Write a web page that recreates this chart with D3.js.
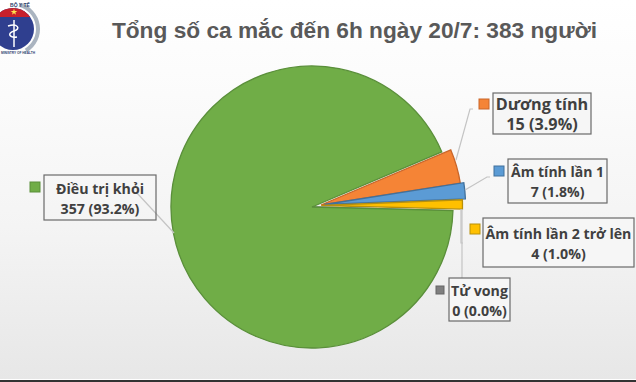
<!DOCTYPE html>
<html><head><meta charset="utf-8">
<script src="https://cdn.jsdelivr.net/npm/d3@7/dist/d3.min.js"></script>
<style>html,body{margin:0;padding:0;background:#fff}svg{display:block}</style>
</head><body><svg id="c" width="636" height="382"></svg>
<script>
const title = "Tổng số ca mắc đến 6h ngày 20/7: 383 người";
const categories = ["Dương tính","Âm tính lần 1","Âm tính lần 2 trở lên","Tử vong","Điều trị khỏi"];
const values = [15,7,4,0,357];
const percents = ["3.9%","1.8%","1.0%","0.0%","93.2%"];
const fills = ["#f58436","#5b9bd5","#ffc000","#7f7f7f","#70ad47"];
const strokes = ["#c9662a","#41719c","#b8900b","#666666","#5a8f3a"];
const explodeX = [9,12.5,9.5,0,0];
const explodeY = [-2,-2.5,-1.5,0,0];

const labelBoxes = [
 {x:493,y:93,w:98,h:41,sx:479,sy:99,ss:10,fs:16.2},
 {x:508,y:159,w:99,h:44,sx:494,sy:166,ss:10,fs:14},
 {x:483,y:218,w:151,h:49,sx:470,sy:224,ss:10,fs:14.2},
 {x:449,y:278,w:61,h:43,sx:436,sy:286,ss:8,fs:14.2},
 {x:44,y:175,w:112,h:45,sx:30,sy:182,ss:10,fs:14.2}
];
const leaders = [
 [[456,160],[470,109],[473,109]],
 [[465,190],[487,177],[490,177]],
 [[461,209],[461,243],[463,243]],
 [[462,209],[462,278]],
 [[137,193],[174,233]]
];

const svg = d3.select("#c");
const defs = svg.append("defs");
const g = defs.append("linearGradient").attr("id","bg").attr("x1",0).attr("y1",0).attr("x2",0).attr("y2",1);
g.append("stop").attr("offset","0").attr("stop-color","#ffffff");
g.append("stop").attr("offset","0.25").attr("stop-color","#fbfbfb");
g.append("stop").attr("offset","0.6").attr("stop-color","#f4f4f4");
g.append("stop").attr("offset","1").attr("stop-color","#e7e7e7");
svg.append("rect").attr("width",636).attr("height",379).attr("fill","url(#bg)");
svg.append("rect").attr("y",380).attr("width",636).attr("height",2).attr("fill","#333333");

// Logo
defs.append("clipPath").attr("id","redcap").append("rect").attr("x",-30).attr("y",-30).attr("width",60).attr("height",18);
const logo = svg.append("g").attr("transform","translate(13,29)");
logo.append("path").attr("d",d3.arc()({innerRadius:23,outerRadius:27,startAngle:0.25,endAngle:2.6})).attr("fill","#aab4c0");
logo.append("circle").attr("r",21).attr("fill","#2f3f8f");
logo.append("circle").attr("r",21).attr("fill","#c8202c").attr("clip-path","url(#redcap)");
logo.append("path").attr("d",d3.symbol(d3.symbolStar,14)()).attr("transform","translate(1,-17)").attr("fill","#ffe14d");
logo.append("line").attr("x1",1).attr("x2",1).attr("y1",-9).attr("y2",18).attr("stroke","#fff").attr("stroke-width",1.5);
logo.append("path").attr("d","M-5,-3 C5,-6 8,0 1,2 C-6,4 -4,9 4,8").attr("fill","none").attr("stroke","#fff").attr("stroke-width",1.5);
svg.append("text").attr("x",20).attr("y",7).attr("text-anchor","middle").attr("font-family","Liberation Sans, sans-serif")
  .attr("font-weight",700).attr("font-size",5).attr("fill","#2f3f6f").text("BỘ Y TẾ");
svg.append("text").attr("x",1).attr("y",54).attr("text-anchor","start").attr("font-family","Liberation Sans, sans-serif")
  .attr("font-weight",700).attr("font-size",3.2).attr("fill","#2f3f6f").text("MINISTRY OF HEALTH");

svg.append("text").attr("x",354.5).attr("y",38).attr("text-anchor","middle")
  .attr("font-family","Liberation Sans, Arial, sans-serif").attr("font-weight",700)
  .attr("font-size",22.7).attr("fill","#595959").text(title);

const a0 = 67*Math.PI/180;
const pie = d3.pie().sort(null).startAngle(a0).endAngle(a0+2*Math.PI);
const arcs = pie(values);
const arc = d3.arc().innerRadius(0).outerRadius(141);
const cx = 312, cy = 207;

svg.append("g").selectAll("path").data(arcs).join("path")
  .attr("d",arc)
  .attr("transform",(d,i)=>`translate(${cx+explodeX[i]},${cy+explodeY[i]})`)
  .attr("fill",(d,i)=>fills[i])
  .attr("stroke",(d,i)=>strokes[i])
  .attr("stroke-width",1.3)
  .attr("stroke-linejoin","miter");

const line = d3.line();
svg.append("g").selectAll("path").data(leaders).join("path")
  .attr("d",line).attr("fill","none").attr("stroke","#c4c4c4").attr("stroke-width",1.2);

const lab = svg.append("g").selectAll("g").data(labelBoxes).join("g");
lab.append("rect").attr("x",d=>d.x).attr("y",d=>d.y).attr("width",d=>d.w).attr("height",d=>d.h)
  .attr("fill","#f6f6f6").attr("fill-opacity",d=>d.x<100?0:1).attr("stroke","#6a6a6a").attr("stroke-width",1.2);
lab.append("rect").attr("x",d=>d.sx).attr("y",d=>d.sy).attr("width",d=>d.ss).attr("height",d=>d.ss)
  .attr("fill",(d,i)=>fills[i]).attr("stroke",(d,i)=>strokes[i]).attr("stroke-width",1);
const t = lab.append("text").attr("text-anchor","middle")
  .attr("font-family","Open Sans, Liberation Sans, sans-serif").attr("font-weight",700)
  .attr("font-size",d=>d.fs).attr("fill","#404040");
t.append("tspan").attr("x",d=>d.x+d.w/2).attr("y",d=>d.y+d.h/2-4).text((d,i)=>categories[i]);
t.append("tspan").attr("x",d=>d.x+d.w/2).attr("y",d=>d.y+d.h/2+16).text((d,i)=>`${values[i]} (${percents[i]})`);
</script></body></html>
